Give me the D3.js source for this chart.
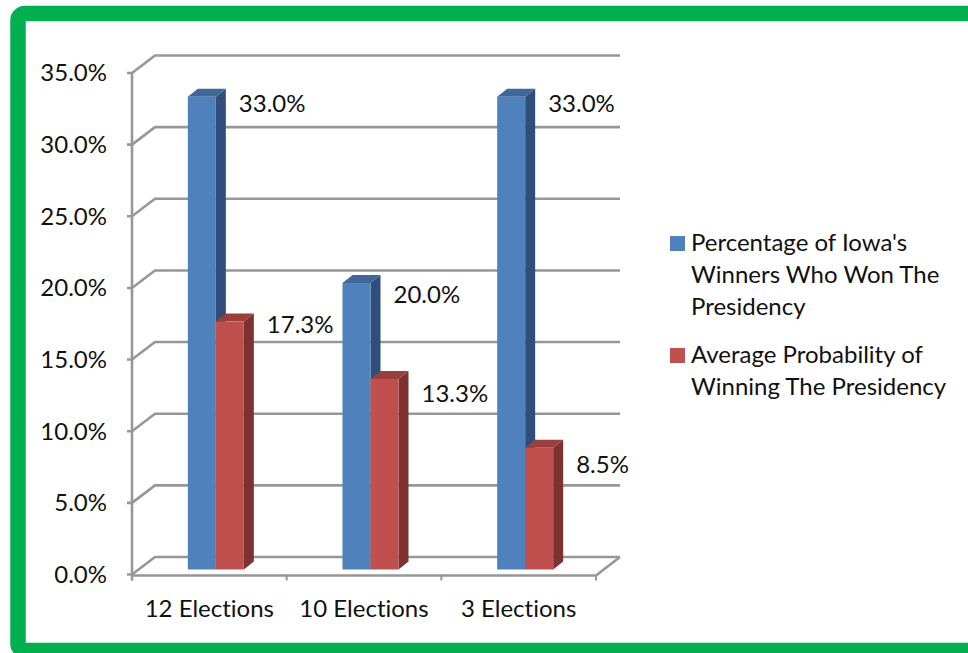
<!DOCTYPE html>
<html>
<head>
<meta charset="utf-8">
<script src="https://d3js.org/d3.v7.min.js"></script>
<style>
  html, body { margin: 0; padding: 0; background: #fff; overflow: hidden; }
  text { font-family: Lato, "Open Sans", sans-serif; fill: #111; font-variant-ligatures: none; }
</style>
</head>
<body>
<div id="chart"></div>
<script>
// values
const categories = ["12 Elections", "10 Elections", "3 Elections"];
const iowaWinners = [33.0, 20.0, 33.0];
const avgProbability = [17.3, 13.3, 8.5];
const yTicks = [0, 5, 10, 15, 20, 25, 30, 35];
const seriesNames = ["Percentage of Iowa's Winners Who Won The Presidency", "Average Probability of Winning The Presidency"];
const legendLines = [["Percentage of Iowa's", "Winners Who Won The", "Presidency"], ["Average Probability of", "Winning The Presidency"]];

const width = 968, height = 653;
const fontSize = 24;

// 3d box look
const wallDx = 23, wallDy = 17.5;
const barW = 28, barDx = 10, barDy = 8, barLift = 5;
const gridColor = "#979797";

const colors = [
  { front: "#4f81bd", top: "#3f6797", side: "#2f4e7b" },
  { front: "#c0504d", top: "#99403d", side: "#7d3231" }
];

const svg = d3.select("#chart")
  .append("svg")
    .attr("width", width)
    .attr("height", height)
    .style("display", "block");

// green frame
svg.append("rect")
  .attr("x", 18).attr("y", 13.5)
  .attr("width", 1000).attr("height", 637)
  .attr("rx", 7)
  .attr("fill", "none")
  .attr("stroke", "#00b050")
  .attr("stroke-width", 15.5);

const x = d3.scaleBand().domain(categories).range([132, 596]);
const y = d3.scaleLinear().domain([0, 35]).range([574.5, 73]);
const xRight = x.range()[1];

// walls and gridlines
svg.append("g").selectAll("path")
  .data(yTicks)
  .join("path")
    .attr("d", d => `M${x.range()[0] - 5},${y(d)}H${x.range()[0]}L${x.range()[0] + wallDx},${y(d) - wallDy}H${xRight + wallDx + 1}`)
    .attr("fill", "none")
    .attr("stroke", gridColor)
    .attr("stroke-width", 2.6);

// floor edge
svg.append("path")
  .attr("d", `M${x.range()[0]},${y(0) + 1}H${xRight}L${xRight + wallDx + 1},${y(0) - wallDy}`)
  .attr("fill", "none")
  .attr("stroke", gridColor)
  .attr("stroke-width", 2.6);

// y axis line
svg.append("line")
  .attr("x1", x.range()[0]).attr("x2", x.range()[0])
  .attr("y1", y(35)).attr("y2", y(0) + 6)
  .attr("stroke", gridColor)
  .attr("stroke-width", 2.6);

// x ticks
svg.append("g").selectAll("line")
  .data(categories.map(c => x(c)).concat([xRight]))
  .join("line")
    .attr("x1", d => d).attr("x2", d => d)
    .attr("y1", y(0)).attr("y2", y(0) + 6)
    .attr("stroke", gridColor)
    .attr("stroke-width", 2);

// y labels
svg.append("g").selectAll("text")
  .data(yTicks)
  .join("text")
    .attr("x", 107)
    .attr("y", d => y(d))
    .attr("dy", "0.35em")
    .attr("text-anchor", "end")
    .attr("font-size", fontSize)
    .text(d => d3.format(".1f")(d) + "%");

// x labels
svg.append("g").selectAll("text")
  .data(categories)
  .join("text")
    .attr("x", d => x(d) + x.bandwidth() / 2)
    .attr("y", 617)
    .attr("text-anchor", "middle")
    .attr("font-size", fontSize)
    .text(d => d);

// bars, back to front
const barData = [];
categories.forEach((c, i) => {
  barData.push({ cat: c, s: 0, v: iowaWinners[i] });
  barData.push({ cat: c, s: 1, v: avgProbability[i] });
});
const barLeft = d => x(d.cat) + x.bandwidth() / 2 + 6.5 + (d.s - 1) * barW;
const barTop = d => y(d.v) - barLift;
const barBase = y(0) - barLift;

const bars = svg.append("g").selectAll("g")
  .data(barData)
  .join("g");

bars.append("path")
  .attr("fill", d => colors[d.s].side)
  .attr("d", d => {
    const r = barLeft(d) + barW;
    return `M${r},${barTop(d)}l${barDx},${-barDy}V${barBase - barDy}l${-barDx},${barDy}Z`;
  });
bars.append("path")
  .attr("fill", d => colors[d.s].top)
  .attr("d", d => `M${barLeft(d)},${barTop(d)}l${barDx},${-barDy}h${barW}l${-barDx},${barDy}Z`);
bars.append("rect")
  .attr("x", barLeft)
  .attr("y", barTop)
  .attr("width", barW)
  .attr("height", d => barBase - barTop(d))
  .attr("fill", d => colors[d.s].front);

// value labels sit a bit under the bar top, excel moved each one its own amount
const labelDrop = [7, 3, 12, 15, 7, 17];
svg.append("g").selectAll("text")
  .data(barData)
  .join("text")
    .attr("x", d => barLeft(d) + barW + 23)
    .attr("y", (d, i) => barTop(d) + labelDrop[i])
    .attr("dy", "0.35em")
    .attr("font-size", fontSize)
    .text(d => d.v.toFixed(1) + "%");

// legend
const legendTops = [243, 355];
const legend = svg.append("g").selectAll("g")
  .data(seriesNames)
  .join("g")
    .attr("aria-label", d => d);

legend.append("rect")
  .attr("x", 670)
  .attr("y", (d, i) => legendTops[i] - 7)
  .attr("width", 15)
  .attr("height", 15)
  .attr("fill", (d, i) => colors[i].front);

legend.append("text")
  .attr("font-size", fontSize)
  .selectAll("tspan")
  .data((d, i) => legendLines[i].map((t, k) => ({ t, k, top: legendTops[i] })))
  .join("tspan")
    .attr("x", 691)
    .attr("y", d => d.top + d.k * 32)
    .attr("dy", "0.35em")
    .text(d => d.t);
</script>
</body>
</html>
